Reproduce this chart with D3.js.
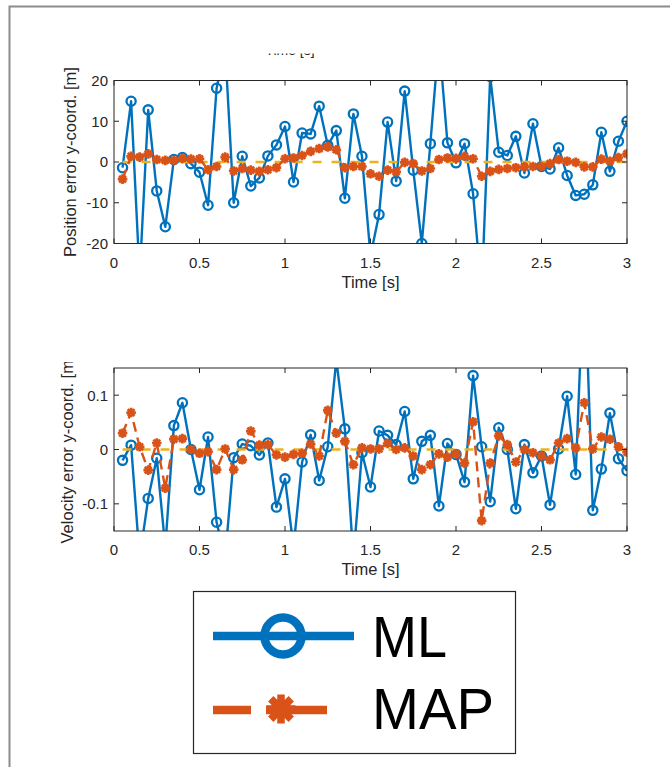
<!DOCTYPE html>
<html>
<head>
<meta charset="utf-8">
<script src="https://cdn.jsdelivr.net/npm/d3@7"></script>
<style>
  html, body { margin: 0; padding: 0; background: #ffffff; }
  svg { display: block; }
  text { font-family: "Liberation Sans", Arial, Helvetica, sans-serif; fill: #262626; }
</style>
</head>
<body>
<div id="chart"></div>
<script>
// ---------------- DATA ----------------
const time = [0.05,0.10,0.15,0.20,0.25,0.30,0.35,0.40,0.45,0.50,
              0.55,0.60,0.65,0.70,0.75,0.80,0.85,0.90,0.95,1.00,
              1.05,1.10,1.15,1.20,1.25,1.30,1.35,1.40,1.45,1.50,
              1.55,1.60,1.65,1.70,1.75,1.80,1.85,1.90,1.95,2.00,
              2.05,2.10,2.15,2.20,2.25,2.30,2.35,2.40,2.45,2.50,
              2.55,2.60,2.65,2.70,2.75,2.80,2.85,2.90,2.95,3.00];

const posML = [-1.4,14.9,-28,12.8,-7.1,-15.9,0.6,1.1,-0.4,-2.5,
               -10.6,18.1,28,-10.0,1.4,-5.9,-3.9,1.5,4.2,8.7,
               -4.9,7.1,6.9,13.7,4.1,7.7,-8.9,11.8,1.4,-23,
               -12.9,9.8,-4.7,17.4,-2.0,-20,4.5,30,4.7,-0.2,
               4.5,-7.8,-32,21,2.4,1.6,6.3,-2.7,9.4,-1.1,
               -1.7,3.5,-3.3,-8.2,-7.9,-5.6,7.3,-2.3,5.1,10.0];

const posMAP = [-4.2,1.4,1.2,2.0,0.6,0.4,0.4,0.9,0.7,0.8,
                -1.9,-1.1,1.2,-2.2,-1.6,-2.0,-2.3,-1.9,-1.4,0.8,
                1.0,1.6,2.6,3.3,3.7,3.0,-1.4,-1.1,-1.1,-2.9,
                -3.5,-2.0,-2.4,-0.1,-0.4,-2.2,-1.6,0.6,1.0,0.9,
                1.4,0.8,-3.5,-2.3,-1.8,-1.6,-1.4,-1.2,-1.1,-1.1,
                -0.4,0.6,0.2,-0.1,-1.2,-1.2,0.7,0.2,1.1,2.0];

const velML = [-0.020,0.008,-0.20,-0.090,-0.016,-0.18,0.044,0.086,0.000,-0.074,
               0.023,-0.134,-0.20,-0.015,0.010,0.007,-0.010,0.012,-0.106,-0.054,
               -0.18,-0.023,0.027,-0.057,0.005,0.165,0.038,-0.20,-0.006,-0.069,
               0.034,0.026,0.009,0.070,-0.054,0.015,0.026,-0.104,0.011,-0.009,
               -0.060,0.136,0.005,-0.096,0.040,0.000,-0.109,0.009,-0.043,-0.012,
               -0.102,0.001,0.098,-0.046,0.35,-0.112,-0.036,0.067,-0.017,-0.039];

const velMAP = [0.030,0.068,0.005,-0.038,0.012,-0.071,0.019,0.020,0.000,-0.007,
                -0.004,-0.037,0.001,-0.037,-0.019,0.034,0.008,0.009,-0.010,-0.014,
                -0.009,-0.007,0.010,-0.012,0.072,0.030,0.015,-0.028,0.003,0.001,
                0.001,0.011,0.000,0.003,-0.012,-0.037,-0.028,-0.008,-0.014,-0.008,
                -0.025,0.051,-0.131,-0.025,0.025,0.009,-0.023,0.000,-0.006,-0.012,
                -0.019,0.012,0.020,0.003,0.086,0.001,0.023,0.019,0.005,-0.005];

const refValue = [0, 0];                 // true value (zero error), from first to last time
const xTicks = [0, 0.5, 1, 1.5, 2, 2.5, 3];
const xTickLabels = ["0", "0.5", "1", "1.5", "2", "2.5", "3"];
const posYTicks = [-20, -10, 0, 10, 20];
const posYTickLabels = ["-20", "-10", "0", "10", "20"];
const velYTicks = [-0.1, 0, 0.1];
const velYTickLabels = ["-0.1", "0", "0.1"];
const seriesNames = ["ML", "MAP"];

// ---------------- STYLE ----------------
const W = 670, H = 767;
const C_ML = "#0072BD", C_MAP = "#D95319", C_REF = "#EDB120", C_AX = "#262626";
const TICK_FS = 15, LABEL_FS = 16.5;

const svg = d3.select("#chart").append("svg").attr("width", W).attr("height", H);
const defs = svg.append("defs");

// figure frame (left and top border)
svg.append("path").attr("d", `M9.5,767 L9.5,6.5 L670,6.5`)
  .attr("fill", "none").attr("stroke", "#8c8c8c").attr("stroke-width", 2);

function asteriskPath(s) {
  const k = s * 0.7071;
  return `M${-s},0H${s}M0,${-s}V${s}M${-k},${-k}L${k},${k}M${-k},${k}L${k},${-k}`;
}

function drawAxes(cfg) {
  const x = d3.scaleLinear().domain([0, 3]).range([cfg.left, cfg.right]);
  const y = d3.scaleLinear().domain(cfg.yDomain).range([cfg.bottom, cfg.top]);
  const g = svg.append("g");

  const clipId = "clip-" + cfg.id;
  defs.append("clipPath").attr("id", clipId).append("rect")
    .attr("x", cfg.left).attr("y", cfg.top)
    .attr("width", cfg.right - cfg.left).attr("height", cfg.bottom - cfg.top);

  g.append("rect").attr("x", cfg.left).attr("y", cfg.top)
    .attr("width", cfg.right - cfg.left).attr("height", cfg.bottom - cfg.top)
    .attr("fill", "#fff");

  const plot = g.append("g").attr("clip-path", `url(#${clipId})`);
  const line = d3.line().x(d => x(d[0])).y(d => y(d[1]));

  // ML
  const mlPts = time.map((t, i) => [t, cfg.ml[i]]);
  plot.append("path").datum(mlPts).attr("d", line)
    .attr("fill", "none").attr("stroke", C_ML).attr("stroke-width", 2.4)
    .attr("stroke-linejoin", "round");
  plot.selectAll("circle.ml").data(mlPts).enter().append("circle")
    .attr("class", "ml").attr("cx", d => x(d[0])).attr("cy", d => y(d[1]))
    .attr("r", 4.6).attr("fill", "none").attr("stroke", C_ML).attr("stroke-width", 2.3);

  // reference
  const refPts = [[time[0], refValue[0]], [time[time.length - 1], refValue[1]]];
  plot.append("path").datum(refPts).attr("d", line)
    .attr("fill", "none").attr("stroke", C_REF).attr("stroke-width", 2.4)
    .attr("stroke-dasharray", "9,10");

  // MAP
  const mapPts = time.map((t, i) => [t, cfg.map[i]]);
  plot.append("path").datum(mapPts).attr("d", line)
    .attr("fill", "none").attr("stroke", C_MAP).attr("stroke-width", 2.4)
    .attr("stroke-dasharray", "10,6");
  plot.selectAll("path.map").data(mapPts).enter().append("path")
    .attr("class", "map")
    .attr("transform", d => `translate(${x(d[0])},${y(d[1])})`)
    .attr("d", asteriskPath(4.8))
    .attr("fill", "none").attr("stroke", C_MAP).attr("stroke-width", 2.7);

  // box
  g.append("rect").attr("x", cfg.left).attr("y", cfg.top)
    .attr("width", cfg.right - cfg.left).attr("height", cfg.bottom - cfg.top)
    .attr("fill", "none").attr("stroke", C_AX).attr("stroke-width", 1);

  const TL = 5;
  xTicks.forEach((t, i) => {
    const px = x(t);
    g.append("line").attr("x1", px).attr("x2", px).attr("y1", cfg.bottom).attr("y2", cfg.bottom - TL)
      .attr("stroke", C_AX).attr("stroke-width", 1);
    g.append("line").attr("x1", px).attr("x2", px).attr("y1", cfg.top).attr("y2", cfg.top + TL)
      .attr("stroke", C_AX).attr("stroke-width", 1);
    g.append("text").attr("x", px).attr("y", cfg.bottom + 24)
      .attr("text-anchor", "middle").attr("font-size", TICK_FS).text(xTickLabels[i]);
  });
  cfg.yTicks.forEach((v, i) => {
    const py = y(v);
    g.append("line").attr("x1", cfg.left).attr("x2", cfg.left + TL).attr("y1", py).attr("y2", py)
      .attr("stroke", C_AX).attr("stroke-width", 1);
    g.append("line").attr("x1", cfg.right).attr("x2", cfg.right - TL).attr("y1", py).attr("y2", py)
      .attr("stroke", C_AX).attr("stroke-width", 1);
    g.append("text").attr("x", cfg.left - 6).attr("y", py).attr("dy", "0.36em")
      .attr("text-anchor", "end").attr("font-size", TICK_FS).text(cfg.yTickLabels[i]);
  });

  g.append("text").attr("x", (cfg.left + cfg.right) / 2).attr("y", cfg.bottom + 44)
    .attr("text-anchor", "middle").attr("font-size", LABEL_FS).text("Time [s]");

  const ylg = g.append("g");
  if (cfg.yLabelClipTop !== undefined) {
    const cid = "ylclip-" + cfg.id;
    defs.append("clipPath").attr("id", cid).append("rect")
      .attr("x", 0).attr("y", cfg.yLabelClipTop).attr("width", 110).attr("height", H);
    ylg.attr("clip-path", `url(#${cid})`);
  }
  ylg.append("text")
    .attr("transform", `translate(${cfg.yLabelX},${(cfg.top + cfg.bottom) / 2}) rotate(-90)`)
    .attr("text-anchor", "middle").attr("font-size", LABEL_FS).text(cfg.yLabel);
}

drawAxes({
  id: "pos", left: 114, right: 627, top: 80.5, bottom: 243.5,
  yDomain: [-20, 20], yTicks: posYTicks, yTickLabels: posYTickLabels,
  ml: posML, map: posMAP,
  yLabel: "Position error y-coord. [m]", yLabelX: 76
});

drawAxes({
  id: "vel", left: 114, right: 627, top: 368, bottom: 531,
  yDomain: [-0.15, 0.15], yTicks: velYTicks, yTickLabels: velYTickLabels,
  ml: velML, map: velMAP,
  yLabel: "Velocity error y-coord. [m]", yLabelX: 72.5, yLabelClipTop: 362
});

// clipped fragment of a label from a panel above (only its lowest pixels visible)
defs.append("clipPath").attr("id", "fragclip").append("rect")
  .attr("x", 200).attr("y", 53.5).attr("width", 200).attr("height", 8);
svg.append("g").attr("clip-path", "url(#fragclip)")
  .append("text").attr("x", 290).attr("y", 55).attr("text-anchor", "middle")
  .attr("font-size", 14).text("Time [s]");

// ---------------- LEGEND ----------------
const lg = svg.append("g");
lg.append("rect").attr("x", 193.5).attr("y", 591.5).attr("width", 322).attr("height", 162)
  .attr("fill", "#fff").attr("stroke", C_AX).attr("stroke-width", 1.2);

lg.append("line").attr("x1", 213).attr("x2", 354).attr("y1", 636).attr("y2", 636)
  .attr("stroke", C_ML).attr("stroke-width", 8.5);
lg.append("circle").attr("cx", 283).attr("cy", 636).attr("r", 18.5)
  .attr("fill", "none").attr("stroke", C_ML).attr("stroke-width", 8.5);
lg.append("text").attr("x", 372).attr("y", 657).attr("font-size", 58)
  .attr("textLength", 75).attr("lengthAdjust", "spacingAndGlyphs")
  .style("fill", "#000").text(seriesNames[0]);

lg.append("line").attr("x1", 213).attr("x2", 354).attr("y1", 710).attr("y2", 710)
  .attr("stroke", C_MAP).attr("stroke-width", 8.5).attr("stroke-dasharray", "38,15,61,100");
lg.append("path").attr("transform", "translate(281,709)").attr("d", asteriskPath(14.5))
  .attr("fill", "none").attr("stroke", C_MAP).attr("stroke-width", 7.5);
lg.append("text").attr("x", 372).attr("y", 729).attr("font-size", 58)
  .attr("textLength", 122).attr("lengthAdjust", "spacingAndGlyphs")
  .style("fill", "#000").text(seriesNames[1]);
</script>
</body>
</html>
